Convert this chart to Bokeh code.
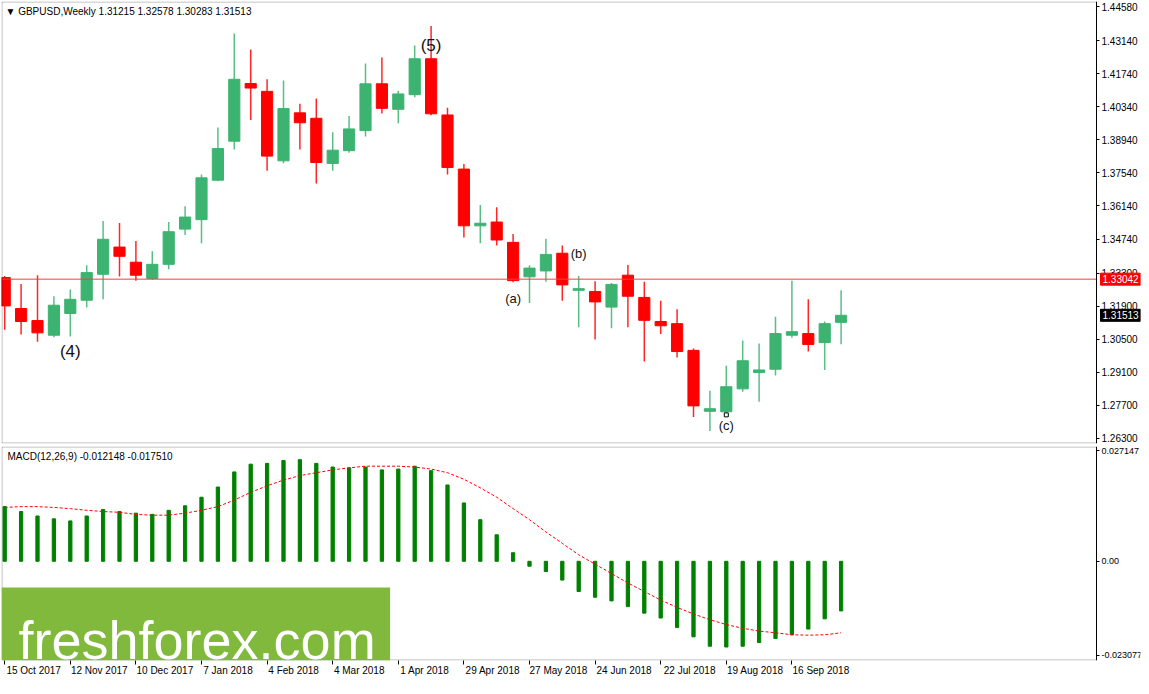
from bokeh.plotting import figure
from bokeh.layouts import column
from bokeh.models import (Range1d, FixedTicker, Label, BoxAnnotation, ColumnDataSource,
                          LinearAxis)
from bokeh.embed import file_html
from bokeh.resources import INLINE
from bokeh.core.properties import value

# ---------------- data ----------------
title_text = "\u25BC GBPUSD,Weekly  1.31215 1.32578 1.30283 1.31513"
macd_title = "MACD(12,26,9) -0.012148 -0.017510"

bar_index = list(range(52))
opens = [1.3311, 1.3180, 1.3129, 1.3067, 1.3159, 1.3215, 1.3325, 1.3440, 1.3376, 1.3307,
         1.3367, 1.3516, 1.3556, 1.3723, 1.3888, 1.4132, 1.4099, 1.3805, 1.4008, 1.3985,
         1.3794, 1.3848, 1.3933, 1.4131, 1.4023, 1.4085, 1.4237, 1.3999, 1.3770, 1.3530,
         1.3546, 1.3460, 1.3314, 1.3339, 1.3414, 1.3257, 1.3252, 1.3186, 1.3321, 1.3227,
         1.3125, 1.3116, 1.3003, 1.2745, 1.2743, 1.2840, 1.2909, 1.2923, 1.3067, 1.3074,
         1.3036, 1.31215]
highs = [1.3318, 1.3284, 1.3321, 1.3232, 1.3260, 1.3363, 1.3550, 1.3542, 1.3466, 1.3422,
         1.3546, 1.3613, 1.3747, 1.3946, 1.4344, 1.4276, 1.4150, 1.4145, 1.4047, 1.4069,
         1.3926, 1.3995, 1.4217, 1.4242, 1.4102, 1.4293, 1.4376, 1.4030, 1.3792, 1.3618,
         1.3609, 1.3495, 1.3363, 1.3475, 1.3447, 1.3318, 1.3295, 1.3288, 1.3364, 1.3293,
         1.3213, 1.3177, 1.3011, 1.2832, 1.2938, 1.3045, 1.3032, 1.3145, 1.3298, 1.3219,
         1.3125, 1.32578]
lows = [1.3090, 1.3070, 1.3039, 1.3058, 1.3062, 1.3184, 1.3219, 1.3315, 1.3298, 1.3302,
        1.3346, 1.3491, 1.3456, 1.3719, 1.3853, 1.3978, 1.3763, 1.3795, 1.3853, 1.3709,
        1.3763, 1.3839, 1.3908, 1.4005, 1.3964, 1.4074, 1.3998, 1.3747, 1.3481, 1.3456,
        1.3447, 1.3291, 1.3203, 1.3293, 1.3213, 1.3101, 1.3049, 1.3097, 1.3101, 1.2956,
        1.3072, 1.2973, 1.2721, 1.2662, 1.2738, 1.2828, 1.2786, 1.2897, 1.3056, 1.2998,
        1.2920, 1.30283]
closes = [1.3191, 1.3125, 1.3077, 1.3194, 1.3219, 1.3332, 1.3473, 1.3401, 1.3321, 1.3367,
          1.3505, 1.3567, 1.3733, 1.3857, 1.4150, 1.4113, 1.3825, 1.4026, 1.3966, 1.3798,
          1.3850, 1.3940, 1.4131, 1.4027, 1.4088, 1.4237, 1.4004, 1.3777, 1.3530, 1.3541,
          1.3470, 1.3298, 1.3351, 1.3409, 1.3280, 1.3264, 1.3208, 1.3282, 1.3232, 1.3130,
          1.3107, 1.2998, 1.2768, 1.2756, 1.2849, 1.2959, 1.2920, 1.3074, 1.3082, 1.3028,
          1.3116, 1.31513]

macd_hist = [0.0134, 0.0122, 0.0111, 0.0104, 0.0099, 0.0111, 0.0127, 0.0122, 0.0118, 0.0115,
             0.0125, 0.0136, 0.0157, 0.0182, 0.0219, 0.0238, 0.0240, 0.0247, 0.0249, 0.0240,
             0.0231, 0.0229, 0.0231, 0.0224, 0.0226, 0.0233, 0.0222, 0.0187, 0.0143, 0.0102,
             0.0065, 0.0021, -0.0012, -0.0025, -0.0046, -0.0074, -0.0088, -0.0097, -0.0111, -0.0127,
             -0.0139, -0.0162, -0.0185, -0.0208, -0.0210, -0.0208, -0.0199, -0.0189, -0.0180, -0.0166,
             -0.0141, -0.012148]
macd_signal = [0.0132, 0.0134, 0.0134, 0.0132, 0.0129, 0.0125, 0.0122, 0.0120, 0.0115, 0.0113,
               0.0113, 0.0118, 0.0125, 0.0134, 0.0150, 0.0169, 0.0185, 0.0199, 0.0210, 0.0217,
               0.0224, 0.0229, 0.0233, 0.0233, 0.0233, 0.0231, 0.0226, 0.0217, 0.0201, 0.0180,
               0.0157, 0.0129, 0.0102, 0.0072, 0.0044, 0.0016, -0.0007, -0.0030, -0.0053, -0.0074,
               -0.0095, -0.0113, -0.0129, -0.0143, -0.0155, -0.0164, -0.0171, -0.0175, -0.0180, -0.0181,
               -0.0180, -0.017510]

date_tick_index = [0, 4, 8, 12, 16, 20, 24, 28, 32, 36, 40, 44, 48]
date_tick_labels = ["15 Oct 2017", "12 Nov 2017", "10 Dec 2017", "7 Jan 2018", "4 Feb 2018",
                    "4 Mar 2018", "1 Apr 2018", "29 Apr 2018", "27 May 2018", "24 Jun 2018",
                    "22 Jul 2018", "19 Aug 2018", "16 Sep 2018"]

price_ticks = [1.44580, 1.43140, 1.41740, 1.40340, 1.38940, 1.37540, 1.36140,
               1.34740, 1.33300, 1.31900, 1.30500, 1.29100, 1.27700, 1.26300]
price_tick_labels = ["1.44580", "1.43140", "1.41740", "1.40340", "1.38940", "1.37540", "1.36140",
                     "1.34740", "1.33300", "1.31900", "1.30500", "1.29100", "1.27700", "1.26300"]
macd_ticks = [0.027147, 0.0, -0.023077]
macd_tick_labels = ["0.027147", "0.00", "-0.023077"]

level_price = 1.33042
level_label = "1.33042"
last_price = 1.31513
last_label = "1.31513"

wave_big_labels = ["(4)", "(5)"]
wave_big_x = [4, 26]
wave_big_y = [1.2999, 1.4292]
wave_small_labels = ["(a)", "(b)", "(c)"]
wave_small_x = [31, 35, 44]
wave_small_y = [1.3223, 1.3414, 1.2684]
anchor_x = [44]
anchor_y = [1.2730]

watermark_text = "freshforex.com"

# ---------------- layout / style ----------------
FW, H1, H2 = 1139, 442, 214      # frame covers chart + price-scale area
AXIS_PX = 1095                   # x of the price-scale line inside the frame
PXB = 16.4                       # pixels per weekly bar
X_LO = -3.2 / PXB
X_HI = X_LO + FW / PXB
X_AXIS = X_LO + AXIS_PX / PXB
P_LO, P_HI = 1.26088, 1.44792
M_LO, M_HI = -0.024302, 0.028127
BULL, BEAR = "#3cb371", "#ff0000"
FONT = "Liberation Sans"

colors = [BULL if c >= o else BEAR for o, c in zip(opens, closes)]
src = ColumnDataSource(dict(
    x=bar_index, o=opens, h=highs, l=lows, c=closes,
    top=[max(o, c) for o, c in zip(opens, closes)],
    bot=[min(o, c) for o, c in zip(opens, closes)],
    col=colors, hist=macd_hist, sig=macd_signal))

xr = Range1d(X_LO, X_HI)


def style_axis(ax, size="10px"):
    ax.axis_line_color = "black"
    ax.major_tick_line_color = "black"
    ax.major_tick_out = 3
    ax.major_tick_in = 0
    ax.minor_tick_line_color = None
    ax.major_label_text_font = FONT
    ax.major_label_text_font_size = size
    ax.major_label_text_color = "black"
    ax.major_label_standoff = 2


def border_box(lo, hi, h):
    half = 0.5 * (hi - lo) / h
    return BoxAnnotation(left=X_LO + 0.5 / PXB, right=X_AXIS, bottom=lo + half, top=hi - half,
                         fill_alpha=0, line_color="black", line_width=1)


# ---------------- price panel ----------------
p1 = figure(frame_width=FW, frame_height=H1, x_range=xr, y_range=Range1d(P_LO, P_HI),
            output_backend="svg", toolbar_location=None, x_axis_location=None,
            y_axis_location="right", min_border_left=1, min_border_top=1,
            min_border_bottom=1, min_border_right=1, outline_line_color=None)
p1.grid.visible = False
style_axis(p1.yaxis[0])
p1.yaxis.ticker = FixedTicker(ticks=price_ticks)
p1.yaxis.major_label_overrides = dict(zip(price_ticks, price_tick_labels))
p1.yaxis.fixed_location = X_AXIS
p1.add_layout(border_box(P_LO, P_HI, H1))

p1.segment(x0="x", y0="l", x1="x", y1="h", source=src, line_color="col", line_width=1.5, line_alpha=0.85)
p1.vbar(x="x", top="top", bottom="bot", width=0.68, source=src, fill_color="col", line_color="col")

p1.segment(x0=[X_LO], y0=[level_price], x1=[X_AXIS], y1=[level_price],
           line_color="#ff3b3b", line_width=1)

p1.text(x=wave_big_x, y=wave_big_y, text=wave_big_labels, text_font=value(FONT),
        text_font_size="17px", text_align="center", text_baseline="middle", text_color="#111111")
p1.text(x=wave_small_x, y=wave_small_y, text=wave_small_labels, text_font=value(FONT),
        text_font_size="13px", text_align="center", text_baseline="middle", text_color="#111111")
p1.scatter(x=anchor_x, y=anchor_y, marker="square", size=4, fill_color="white", line_color="black")

p1.add_layout(Label(x=X_LO, y=P_HI, x_offset=4, y_offset=-10, text=title_text,
                    text_font=FONT, text_font_size="10px", text_baseline="middle", text_color="black"))

for price, txt, bg in [(level_price, level_label, "#ff0000"), (last_price, last_label, "black")]:
    lab = Label(x=X_AXIS, y=price, x_offset=4, text=txt, text_font=FONT,
                text_font_size="10px", text_baseline="middle", text_color="white",
                background_fill_color=bg, border_line_color=bg)
    try:
        lab.padding = 2
    except Exception:
        pass
    p1.add_layout(lab)

# ---------------- MACD panel ----------------
p2 = figure(frame_width=FW, frame_height=H2, x_range=xr, y_range=Range1d(M_LO, M_HI),
            output_backend="svg", toolbar_location=None, x_axis_location="below",
            y_axis_location="right", min_border_left=1, min_border_top=2,
            min_border_bottom=18, min_border_right=1, outline_line_color=None)
p2.grid.visible = False
style_axis(p2.yaxis[0], "9px")
p2.yaxis.ticker = FixedTicker(ticks=macd_ticks)
p2.yaxis.major_label_overrides = dict(zip(macd_ticks, macd_tick_labels))
p2.yaxis.fixed_location = X_AXIS
p2.add_layout(border_box(M_LO, M_HI, H2))

# bottom axis: tick marks at the week positions
style_axis(p2.xaxis[0])
p2.xaxis.axis_line_color = None
p2.xaxis.major_tick_out = 4
p2.xaxis.ticker = FixedTicker(ticks=date_tick_index)
p2.xaxis.major_label_overrides = {i: "" for i in date_tick_index}
p2.xaxis.major_label_standoff = 0

# second bottom axis: date labels drawn to the right of each tick (MT4 style)
label_pos = [i + (2 + 2.45 * len(lab)) / PXB for i, lab in zip(date_tick_index, date_tick_labels)]
lab_axis = LinearAxis(ticker=FixedTicker(ticks=label_pos),
                      major_label_overrides=dict(zip(label_pos, date_tick_labels)))
style_axis(lab_axis)
lab_axis.axis_line_color = None
lab_axis.major_tick_line_color = None
lab_axis.major_tick_out = 0
lab_axis.major_label_standoff = 0
p2.add_layout(lab_axis, "below")

p2.vbar(x="x", top="hist", bottom=0, width=0.2, source=src, fill_color="#008000", line_color="#008000")
p2.line(x="x", y="sig", source=src, line_color="#ff0000", line_width=1, line_dash="3 2")

p2.add_layout(Label(x=X_LO, y=M_HI, x_offset=6, y_offset=-10, text=macd_title, text_font=FONT,
                    text_font_size="10px", text_baseline="middle", text_color="black"))

p2.add_layout(BoxAnnotation(right=23.5, top=-0.0064, fill_color="#80b93c", fill_alpha=1.0,
                            line_alpha=0))
p2.add_layout(Label(x=X_LO, y=M_LO, x_offset=17, y_offset=21, text=watermark_text,
                    text_font=FONT, text_font_size="54px", text_baseline="alphabetic",
                    text_color="white"))

layout = column(p1, p2, spacing=0)
open("out.html", "w").write(file_html(layout, INLINE))
